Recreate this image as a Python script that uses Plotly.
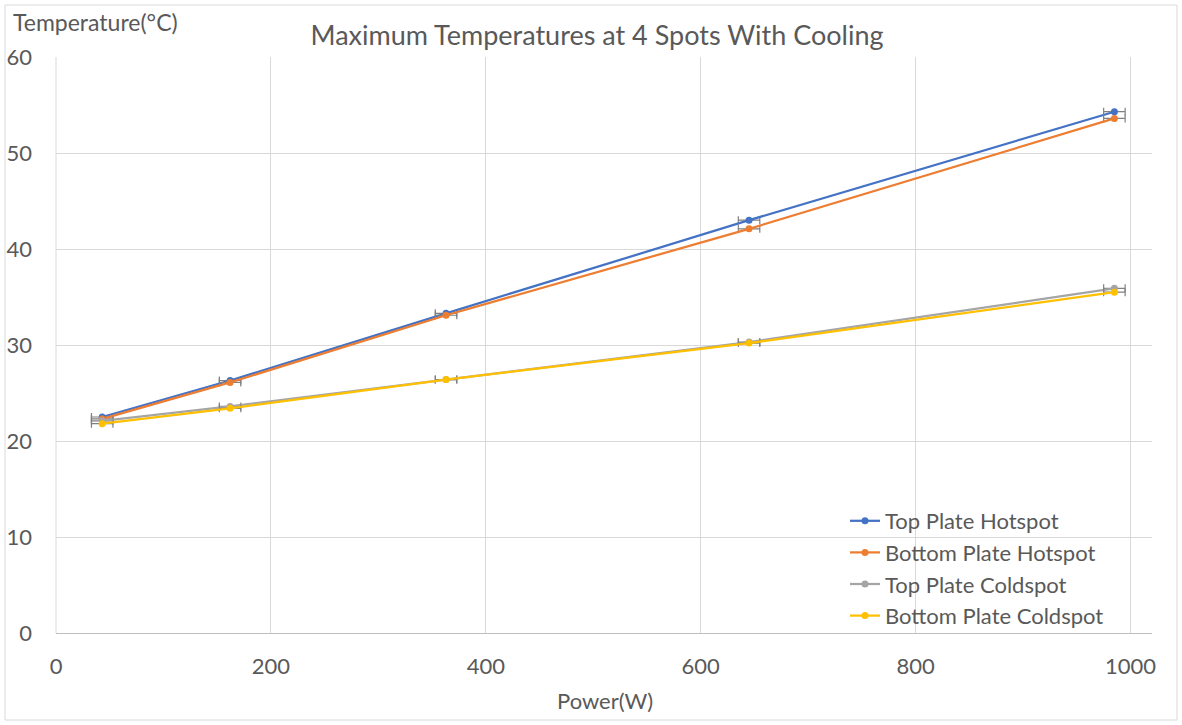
import plotly.graph_objects as go

power = [43, 162, 363, 645, 985]
power_err = [10, 10, 10, 10, 10]
top_hot = [22.5, 26.3, 33.3, 43.0, 54.3]
bottom_hot = [22.3, 26.1, 33.1, 42.1, 53.6]
top_cold = [22.1, 23.6, 26.4, 30.3, 35.9]
bottom_cold = [21.8, 23.4, 26.4, 30.2, 35.5]

series_names = ["Top Plate Hotspot", "Bottom Plate Hotspot", "Top Plate Coldspot", "Bottom Plate Coldspot"]
series_vals = [top_hot, bottom_hot, top_cold, bottom_cold]
colors = ["#4472C4", "#ED7D31", "#A5A5A5", "#FFC000"]

FONT = "Lato"
TXT = "#595959"

fig = go.Figure()
for name, vals, c in zip(series_names, series_vals, colors):
    fig.add_trace(go.Scatter(
        x=power, y=vals, name=name, mode="lines+markers",
        line=dict(color=c, width=2.25),
        marker=dict(color=c, size=7),
        error_x=dict(type="data", array=power_err, visible=True,
                     color="#808080", thickness=1.2, width=4),
    ))

W, H = 1182, 725
L, R, T, B = 56, 30, 57, 92
pw, ph = W - L - R, H - T - B

def px(xp):
    return (xp - L) / pw

def py(yp):
    return (H - B - yp) / ph

fig.update_layout(
    width=W, height=H,
    margin=dict(l=L, r=R, t=T, b=B, autoexpand=False),
    paper_bgcolor="white", plot_bgcolor="white",
    font=dict(family=FONT, color=TXT, size=22),
    title=dict(text="Maximum Temperatures at 4 Spots With Cooling",
               x=597 / W, xanchor="center",
               y=1 - 36 / H, yanchor="middle",
               font=dict(size=27, color=TXT, family=FONT)),
    showlegend=True,
    legend=dict(x=px(845), y=py(500), xanchor="left", yanchor="top",
                bgcolor="rgba(255,255,255,0)", font=dict(size=22, color=TXT),
                itemwidth=30, tracegroupgap=0),
    xaxis=dict(range=[0, 1020], tickvals=[0, 200, 400, 600, 800, 1000],
               showgrid=True, gridcolor="#D9D9D9", gridwidth=1,
               showline=True, linecolor="#BFBFBF", linewidth=1,
               zeroline=False, ticks="", tickfont=dict(size=22, color=TXT),
               ticklabelstandoff=14, automargin=False),
    yaxis=dict(range=[0, 60], tickvals=[0, 10, 20, 30, 40, 50, 60],
               showgrid=True, gridcolor="#D9D9D9", gridwidth=1,
               showline=False, zeroline=False, ticks="",
               tickfont=dict(size=22, color=TXT), ticklabelstandoff=23,
               automargin=False),
    annotations=[
        dict(text="Temperature(°C)", xref="paper", yref="paper",
             x=px(11), y=py(22), xanchor="left", yanchor="middle",
             showarrow=False, font=dict(size=23, color=TXT)),
        dict(text="Power(W)", xref="paper", yref="paper",
             x=px(605), y=py(700), xanchor="center", yanchor="middle",
             showarrow=False, font=dict(size=22, color=TXT)),
    ],
    shapes=[
        dict(type="line", xref="paper", yref="paper", x0=px(56), x1=px(56),
             y0=0, y1=1, line=dict(color="#D9D9D9", width=1)),
        dict(type="rect", xref="paper", yref="paper",
             x0=px(5), x1=px(1177), y0=py(720), y1=py(5),
             line=dict(color="#D9D9D9", width=1)),
    ],
)

fig.write_html("out.html")
